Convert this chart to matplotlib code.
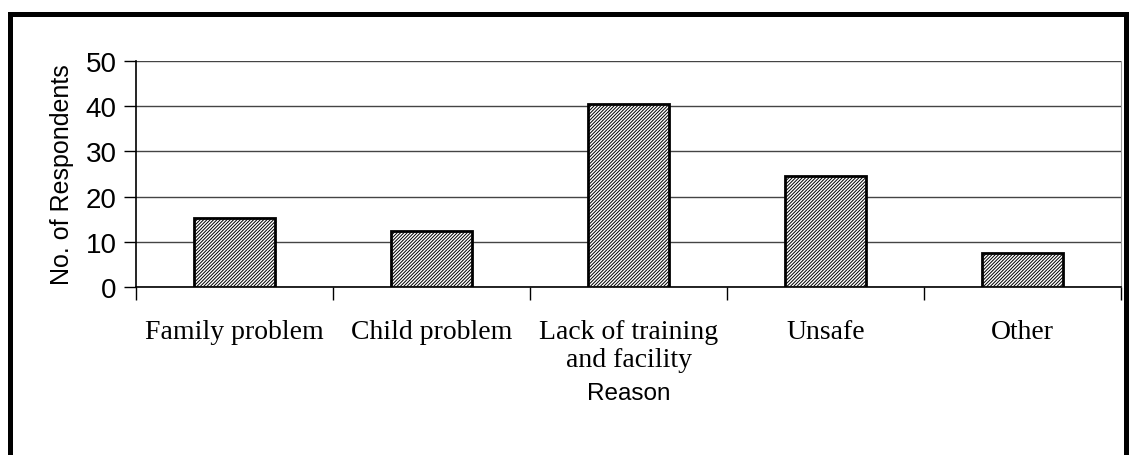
import numpy as np
import matplotlib
matplotlib.use('Agg')
import matplotlib.pyplot as plt
from matplotlib.patches import Rectangle

# ── DATOS ──────────────────────────────────────────────────────────────────────
categorias = ['Family problem', 'Child problem', 'Lack of training\nand facility',
              'Unsafe', 'Other']
valores = [15.2, 12.3, 40.5, 24.5, 7.6]
yticks = [0, 10, 20, 30, 40, 50]

plt.rcParams['hatch.linewidth'] = 0.7

# ── FIGURA ─────────────────────────────────────────────────────────────────────
fig = plt.figure(figsize=(11.33, 4.56), dpi=100)
ax = fig.add_axes([136/1133, 1-288/456, (1121-136)/1133, (288-62)/456])

pos = np.arange(len(categorias))
ax.bar(pos, valores, width=0.41, color='white', edgecolor='black',
       linewidth=2, hatch='//////////', zorder=3)

ax.set_xlim(-0.5, len(categorias)-0.5)
ax.set_ylim(0, 50)
ax.set_yticks(yticks)
ax.set_yticklabels([str(v) for v in yticks], family='Liberation Sans', fontsize=20)
ax.tick_params(axis='y', direction='out', length=9, width=1, pad=5)

ax.set_xticks(pos)
ax.set_xticklabels(categorias, family='Liberation Serif', fontsize=20,
                   linespacing=1.15, va='top')
ax.tick_params(axis='x', which='major', length=0, pad=23)
ax.set_xticks(np.arange(-0.5, len(categorias), 1), minor=True)
ax.tick_params(axis='x', which='minor', direction='out', length=9, width=1)

ax.yaxis.grid(True, color='#444444', linewidth=1, zorder=0)
ax.spines['top'].set_visible(False)
ax.spines['right'].set_color('#999999')
ax.spines['left'].set_linewidth(1.2)
ax.spines['bottom'].set_linewidth(1.2)

ax.set_ylabel('No. of Respondents', family='Liberation Sans', fontsize=18, labelpad=8)
ax.set_xlabel('Reason', family='Liberation Sans', fontsize=17.5, labelpad=7)

# marco exterior
fig.patches.append(Rectangle((10.5/1133, -0.1), (1125.5-10.5)/1133, 1.1-14.5/456,
                             transform=fig.transFigure, fill=False,
                             edgecolor='black', linewidth=3.6))

fig.savefig('out.png', dpi=100)
